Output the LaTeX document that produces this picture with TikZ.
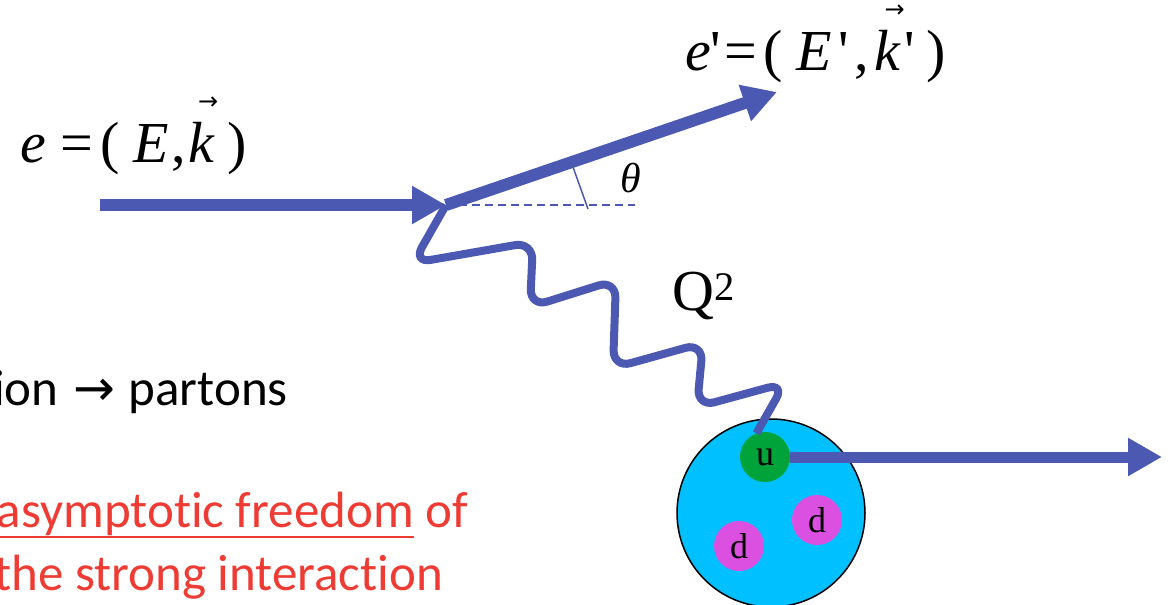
\documentclass[tikz,border=0pt]{standalone}
\usepackage{fontspec}
\setmainfont{Liberation Serif}
\newfontfamily\slidefont[Ligatures=NoCommon]{Carlito}
\newfontfamily\symfont{DejaVu Sans}
\usetikzlibrary{arrows.meta, positioning}

\definecolor{fblue}{RGB}{76,89,178}
\definecolor{pcyan}{RGB}{0,192,255}
\definecolor{ugreen}{RGB}{0,163,58}
\definecolor{dpink}{RGB}{220,80,225}
\definecolor{tred}{RGB}{238,59,51}

% italic k with a vector arrow above it
\newcommand{\veck}{\setbox0\hbox{\textit{k}}%
  \rlap{\hbox to \wd0{\hss\kern0.22em\raisebox{0.9em}{\symfont\fontsize{24}{24}\selectfont →}\hss}}\box0}
% underline with a thick rule
\newcommand{\slideul}[1]{\leavevmode\vtop{\hbox{#1}\kern0.5pt\hrule height 2pt}}

\begin{document}
\begin{tikzpicture}[
  x=1pt, y=-1pt,
  lepton/.style={draw=fblue, line width=12pt, -{Triangle[length=34pt, width=36pt]}},
  photon/.style={draw=fblue, line width=8pt, rounded corners=18pt},
  eqn/.style={inner sep=0pt, font=\fontsize{58}{60}\selectfont},
  proton/.style={circle, draw=black, line width=1.5pt, fill=pcyan, minimum size=188pt, inner sep=0pt},
  quark/.style={circle, minimum size=50pt, inner sep=0pt, font=\fontsize{36}{38}\selectfont},
  slide/.style={inner sep=0pt, font=\slidefont\fontsize{51}{53}\selectfont}
]
\useasboundingbox (0,0) rectangle (1171,605);
\clip (0,0) rectangle (1171,605);

% ---- electron scattering vertex ----
\coordinate (vtx)     at (446,205);
\coordinate (ein)     at (100,205);
\coordinate (eout)    at (777,92);
\coordinate (dashend) at (635,205);

\draw[fblue, line width=1.5pt, dash pattern=on 8pt off 5pt] (vtx) -- (dashend);
\draw[lepton] (ein) -- (vtx);
\draw[lepton] (vtx) -- (eout);
\draw[fblue, line width=1.5pt] (573,167) -- (588,209);

% ---- labels ----
\node[eqn, anchor=base west] (elbl) at (20,162)
  {\textit{e}\hspace{0.25em}=\hspace{0.12em}(\hspace{0.25em}\textit{E}\hspace{0.04em},\hspace{0.04em}\veck\hspace{0.22em})};
\node[eqn, anchor=base west] (eplbl) at (685,70)
  {\textit{e}\textquotesingle\hspace{0.05em}=\hspace{0.12em}(\hspace{0.22em}\textit{E}\hspace{0.12em}\textquotesingle\hspace{0.1em},\hspace{0.1em}\veck\hspace{0.05em}\textquotesingle\hspace{0.2em})};
\node[inner sep=0pt, font=\fontsize{42}{44}\selectfont\itshape] (thlbl) at (631,178) {θ};
\node[eqn, anchor=base west] (q2lbl) at (672,310) {Q\textsuperscript{2}};

% ---- proton and quarks ----
\node[proton] (p) at (771,513) {};
\node[quark, fill=ugreen] (u)  at (765,457) {u};
\node[quark, fill=dpink]  (d1) at (739,546) {d};
\node[quark, fill=dpink]  (d2) at (817,520) {d};
\coordinate (qout) at (1162,457);

% virtual photon
\draw[photon] (vtx) -- (413,263) -- (533,242) -- (530,307) -- (616,280) -- (613,368)
  -- (703,343) -- (697,407) -- (785,383) -- (u.110);
\draw[lepton, line width=11pt] (u.east) -- (qout);

% ---- slide text ----
\node[slide, anchor=base east] (parton) at (288,405) {ion\hspace{0.3em}{\symfont\fontsize{50}{50}\selectfont →}\hspace{0.25em}partons};
\node[slide, anchor=base east, text=tred] (freedom) at (468,527) {\slideul{asymptotic freedom} of};
\node[slide, anchor=base east, text=tred] (strong) at (443,590) {the strong interaction};

\end{tikzpicture}
\end{document}
